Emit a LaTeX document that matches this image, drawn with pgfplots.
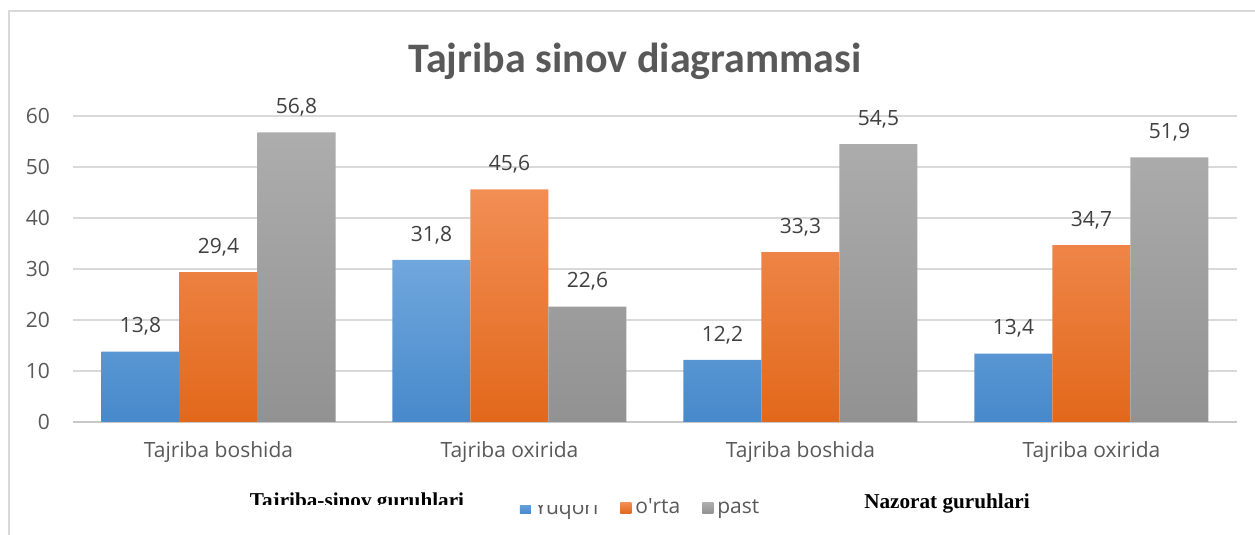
\documentclass[border=0pt]{standalone}
\usepackage{fontspec}
\setmainfont{Open Sans}
\newfontfamily\titlefont{Carlito}
\newfontfamily\timesfont{Liberation Serif}
\usepackage{pgfplots}
\pgfplotsset{compat=1.18}
\pgfplotsset{/pgf/number format/assume math mode=true}
\definecolor{textgray}{HTML}{595959}
\definecolor{labelgray}{HTML}{404040}
\definecolor{gridgray}{HTML}{D9D9D9}
\definecolor{axisgray}{HTML}{C8C8C8}
\definecolor{framegray}{HTML}{D9D9D9}
\definecolor{blueT}{HTML}{70A7DD}
\definecolor{blueB}{HTML}{4789CB}
\definecolor{orangeT}{HTML}{F28E55}
\definecolor{orangeB}{HTML}{E2681B}
\definecolor{grayT}{HTML}{ADADAD}
\definecolor{grayB}{HTML}{929292}
\begin{document}
\begin{tikzpicture}
\useasboundingbox (0,0) rectangle (627.5pt,267.5pt);
\fill[white] (0,0) rectangle (627.5pt,267.5pt);
\draw[framegray, line width=1pt] (4.5pt,0) -- (4.5pt,262pt) -- (627.5pt,262pt);
\begin{axis}[
  at={(36.5pt,56.5pt)}, anchor=south west,
  scale only axis, width=582pt, height=153pt,
  xmin=-0.5, xmax=3.5, ymin=0, ymax=60,
  ytick={0,10,...,60},
  xtick={0,1,2,3},
  xticklabels={Tajriba boshida, Tajriba oxirida, Tajriba boshida, Tajriba oxirida},
  ymajorgrids, grid style={gridgray, line width=0.8pt},
  axis lines*=left,
  x axis line style={axisgray, line width=1pt},
  y axis line style={draw=none},
  major tick length=0pt,
  tick label style={font=\fontsize{10.5}{12}\selectfont, color=textgray},
  yticklabel style={xshift=-8pt},
  xticklabel style={yshift=-6pt},
  ybar=0pt, bar width=39pt,
  enlargelimits=false,
  clip=false,
  nodes near coords={\pgfmathprintnumber[fixed,fixed zerofill,precision=1,use comma,assume math mode=true]{\pgfplotspointmeta}},
  every node near coord/.append style={font=\fontsize{10.5}{12}\selectfont, color=labelgray, yshift=4.5pt},
  legend style={at={(0.4885,-0.281)}, anchor=center, draw=none, fill=none,
    legend columns=-1, font=\fontsize{10.5}{12}\selectfont, text=textgray,
    /tikz/every even column/.append style={column sep=9pt}},
  legend image code/.code={\path[#1, draw=none] (0pt,-2.75pt) rectangle (5.5pt,2.75pt);},
]
\addplot[draw=none, top color=blueT, bottom color=blueB] coordinates {(0,13.8) (1,31.8) (2,12.2) (3,13.4)};
\addplot[draw=none, top color=orangeT, bottom color=orangeB] coordinates {(0,29.4) (1,45.6) (2,33.3) (3,34.7)};
\addplot[draw=none, top color=grayT, bottom color=grayB] coordinates {(0,56.8) (1,22.6) (2,54.5) (3,51.9)};
\legend{Yuqori, o\textquotesingle rta, past}
\end{axis}
\node[font=\titlefont\bfseries\fontsize{21}{24}\selectfont, color=textgray, anchor=base] at (317.5pt,231pt) {Tajriba sinov diagrammasi};
\begin{scope}
\clip (100pt,15pt) rectangle (260pt,30pt);
\node[font=\timesfont\bfseries\fontsize{10.6}{12}\selectfont, anchor=base, inner sep=0pt] at (178.5pt,13.5pt) {Tajriba-sinov guruhlari};
\end{scope}
\fill[white] (257pt,15pt) rectangle (305pt,22pt);
\node[font=\timesfont\bfseries\fontsize{10.6}{12}\selectfont, anchor=base, inner sep=0pt] at (473.5pt,13pt) {Nazorat guruhlari};
\end{tikzpicture}
\end{document}
